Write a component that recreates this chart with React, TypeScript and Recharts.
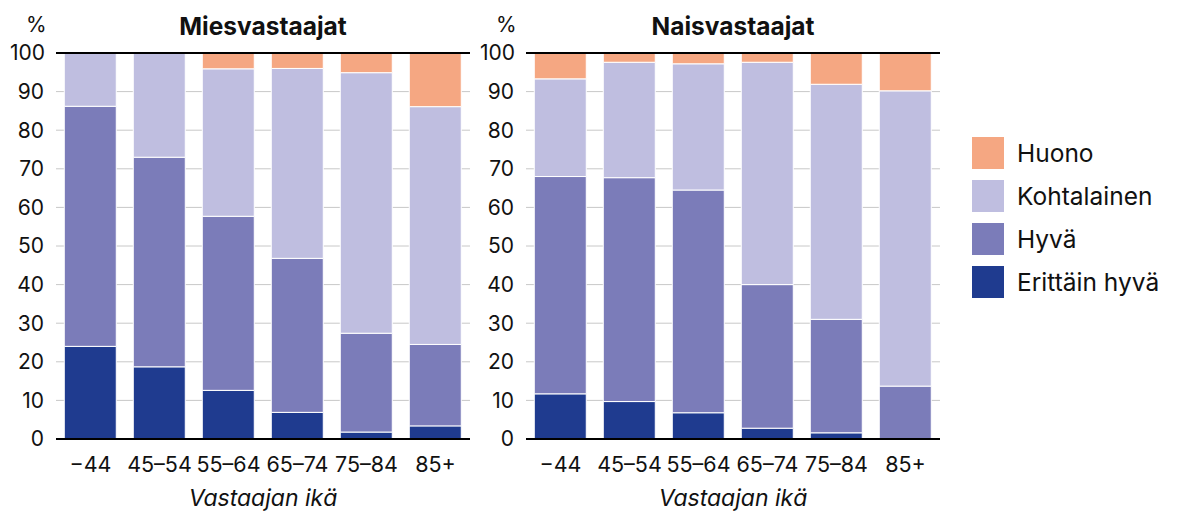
import React from "react";
import { BarChart, Bar, XAxis, YAxis, CartesianGrid, ReferenceLine } from "recharts";

const ageGroups = ["\u221244", "45\u201354", "55\u201364", "65\u201374", "75\u201384", "85+"];

// Miesvastaajat
const menErittainHyva = [24.0, 18.7, 12.6, 6.9, 1.8, 3.4];
const menHyva = [62.2, 54.3, 45.1, 39.9, 25.6, 21.1];
const menKohtalainen = [13.8, 27.0, 38.2, 49.2, 67.5, 61.6];
const menHuono = [0, 0, 4.1, 4.0, 5.1, 13.9];

// Naisvastaajat
const womenErittainHyva = [11.7, 9.7, 6.8, 2.8, 1.6, 0];
const womenHyva = [56.3, 58.0, 57.7, 37.2, 29.4, 13.7];
const womenKohtalainen = [25.3, 29.9, 32.7, 57.6, 60.9, 76.5];
const womenHuono = [6.7, 2.4, 2.8, 2.4, 8.1, 9.8];

const yTicks = [0, 10, 20, 30, 40, 50, 60, 70, 80, 90, 100];

const series = [
  { key: "eh", name: "Erittäin hyvä", color: "#1f3b8f" },
  { key: "h", name: "Hyvä", color: "#7b7cb9" },
  { key: "k", name: "Kohtalainen", color: "#bfbee0" },
  { key: "hu", name: "Huono", color: "#f5a782" },
];

const FONT = "Inter, 'Noto Sans', sans-serif";

function buildRows(eh: number[], h: number[], k: number[], hu: number[]) {
  return ageGroups.map((age, i) => ({ age, eh: eh[i], h: h[i], k: k[i], hu: hu[i] }));
}

const menData = buildRows(menErittainHyva, menHyva, menKohtalainen, menHuono);
const womenData = buildRows(womenErittainHyva, womenHyva, womenKohtalainen, womenHuono);

function YTick(props: any) {
  const { x, y, payload } = props;
  const isTop = payload.value === 100;
  return (
    <text
      x={isTop ? x - 34 : x}
      y={y}
      dy="0.35em"
      textAnchor={isTop ? "start" : "end"}
      fill="#111"
      fontSize={21}
      fontFamily={FONT}
    >
      {payload.value}
    </text>
  );
}

function Panel({ data, title, left }: { data: any[]; title: string; left: number }) {
  return (
    <div style={{ position: "absolute", left, top: 0, width: 470, height: 513 }}>
      <div
        style={{
          position: "absolute",
          left: 56,
          width: 414,
          top: 11,
          textAlign: "center",
          fontFamily: FONT,
          fontWeight: 700,
          fontSize: 24.5,
          color: "#111",
        }}
      >
        {title}
      </div>
      <div
        style={{
          position: "absolute",
          left: 26,
          top: 12,
          fontFamily: FONT,
          fontSize: 21,
          color: "#111",
        }}
      >
        %
      </div>
      <BarChart
        width={470}
        height={513}
        data={data}
        margin={{ top: 53, right: 0, bottom: 0, left: 0 }}
        barCategoryGap="12%"
      >
        <CartesianGrid vertical={false} stroke="#c8c8c8" strokeWidth={1} />
        <XAxis
          dataKey="age"
          height={74}
          tickSize={0}
          tickMargin={18}
          axisLine={{ stroke: "#000", strokeWidth: 2 }}
          tick={{ fill: "#111", fontSize: 21.5, fontFamily: FONT }}
          label={{
            value: "Vastaajan ikä",
            position: "insideBottom",
            offset: 7,
            fill: "#111",
            fontSize: 23,
            fontStyle: "italic",
            fontFamily: FONT,
          }}
        />
        <YAxis
          width={56}
          domain={[0, 100]}
          ticks={yTicks}
          tickSize={0}
          tickMargin={12}
          axisLine={false}
          tick={<YTick />}
        />
        {series.map((s) => (
          <Bar
            key={s.key}
            dataKey={s.key}
            name={s.name}
            stackId="a"
            fill={s.color}
            stroke="#fff"
            strokeWidth={1}
            isAnimationActive={false}
          />
        ))}
        <ReferenceLine y={100} stroke="#000" strokeWidth={2} />
      </BarChart>
    </div>
  );
}

function LegendBox() {
  return (
    <div style={{ position: "absolute", left: 972, top: 137 }}>
      {[...series].reverse().map((s) => (
        <div
          key={s.key}
          style={{ display: "flex", alignItems: "center", height: 32, marginBottom: 11 }}
        >
          <div style={{ width: 32, height: 32, background: s.color, flexShrink: 0 }} />
          <span
            style={{
              marginLeft: 13,
              fontFamily: FONT,
              fontSize: 24.5,
              color: "#111",
              whiteSpace: "nowrap",
            }}
          >
            {s.name}
          </span>
        </div>
      ))}
    </div>
  );
}

export default function App() {
  return (
    <div
      style={{
        position: "absolute",
        left: 0,
        top: 0,
        width: 1178,
        height: 513,
        background: "#fff",
        overflow: "hidden",
      }}
    >
      <Panel data={menData} title="Miesvastaajat" left={0} />
      <Panel data={womenData} title="Naisvastaajat" left={470} />
      <LegendBox />
    </div>
  );
}
